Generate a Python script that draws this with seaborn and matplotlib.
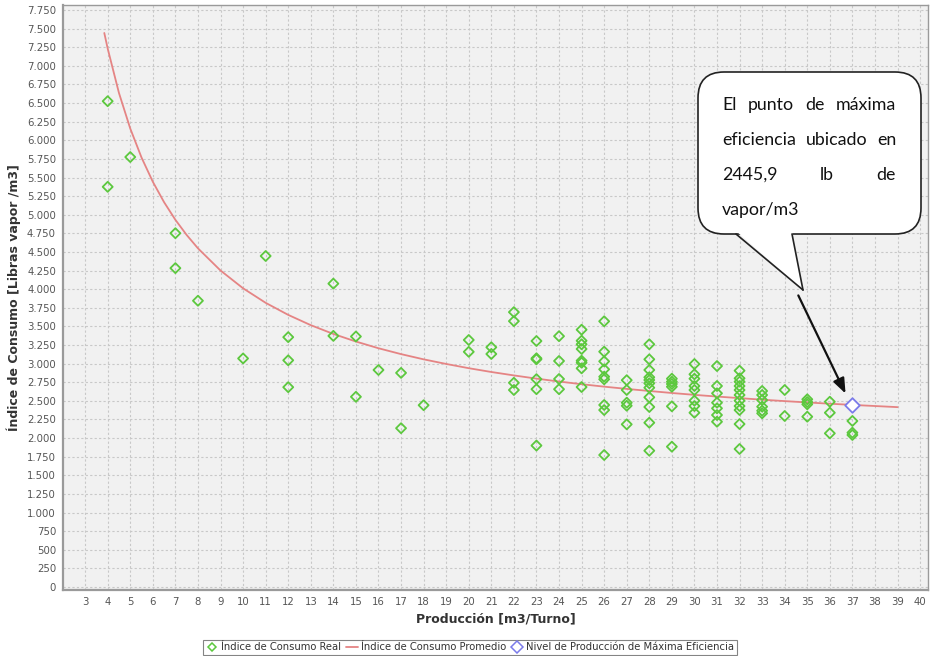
import numpy as np
import pandas as pd
import matplotlib
matplotlib.use("Agg")
import matplotlib.pyplot as plt
import seaborn as sns
from matplotlib.patches import FancyBboxPatch, Polygon
from matplotlib.lines import Line2D
from matplotlib.ticker import FuncFormatter, MultipleLocator

# ---------------- data ----------------
real_x = [4, 4, 5, 7, 7, 8, 10, 11, 12, 12, 12, 14, 14, 15, 15, 16, 17, 17, 18,
          20, 20, 21, 21, 22, 22, 22, 22,
          23, 23, 23, 23, 23, 23,
          24, 24, 24, 24,
          25, 25, 25, 25, 25, 25, 25, 25,
          26, 26, 26, 26, 26, 26, 26, 26, 26,
          27, 27, 27, 27, 27,
          28, 28, 28, 28, 28, 28, 28, 28, 28, 28, 28,
          29, 29, 29, 29, 29, 29,
          30, 30, 30, 30, 30, 30, 30, 30,
          31, 31, 31, 31, 31, 31, 31,
          32, 32, 32, 32, 32, 32, 32, 32, 32, 32, 32,
          33, 33, 33, 33, 33, 33,
          34, 34,
          35, 35, 35, 35,
          36, 36, 36,
          37, 37, 37]
real_y = [6525, 5375, 5775, 4752, 4283, 3845, 3070, 4446, 3356, 3045, 2684, 4075, 3373, 3365, 2555, 2915, 2876, 2133, 2442,
          3318, 3159, 3220, 3130, 3692, 3571, 2743, 2646,
          3304, 3072, 3058, 2792, 2657, 1900,
          3369, 3036, 2794, 2657,
          3456, 3308, 3260, 3197, 3040, 3013, 2937, 2686,
          3569, 3161, 3031, 2924, 2825, 2790, 2445, 2377, 1773,
          2778, 2646, 2476, 2435, 2185,
          3260, 3058, 2915, 2817, 2780, 2736, 2677, 2548, 2418, 2207, 1831,
          2798, 2758, 2727, 2690, 2427, 1885,
          2995, 2857, 2798, 2700, 2646, 2503, 2431, 2341,
          2968, 2700, 2602, 2476, 2400, 2310, 2220,
          2906, 2803, 2758, 2700, 2646, 2579, 2503, 2431, 2377, 2189, 1854,
          2633, 2579, 2512, 2422, 2368, 2333,
          2646, 2297,
          2521, 2485, 2454, 2288,
          2489, 2341, 2064,
          2230, 2073, 2042]

curve_x = [3.85, 4, 4.5, 5, 5.5, 6, 6.5, 7, 7.5, 8, 9, 10, 11, 12, 13, 14, 15, 16, 17, 18, 19,
           20, 21, 22, 23, 24, 25, 26, 27, 28, 29, 30, 31, 32, 33, 34, 35, 36, 37, 38, 39]
curve_y = [7441, 7232, 6635, 6158, 5768, 5443, 5168, 4932, 4728, 4549, 4251, 4012, 3817, 3655, 3517,
           3399, 3297, 3207, 3128, 3058, 2996, 2939, 2888, 2842, 2799, 2760, 2724, 2691, 2661, 2633,
           2606, 2581, 2558, 2537, 2516, 2497, 2479, 2462, 2446, 2431, 2416]

best_x = [37]
best_y = [2445.9]

x_ticks = list(range(3, 41))
y_ticks = list(range(0, 7751, 250))

legend_labels = ["Índice de Consumo Real", "Índice de Consumo Promedio",
                 "Nivel de Producción de Máxima Eficiencia"]
callout_lines = [["El", "punto", "de", "máxima"],
                 ["eficiencia", "ubicado", "en"],
                 ["2445,9", "lb", "de"],
                 ["vapor/m3"]]

# ---------------- figure ----------------
sns.set_style("whitegrid")
plt.rcParams['font.family'] = ['DejaVu Sans']

W, H = 932, 656
fig = plt.figure(figsize=(W / 100, H / 100), dpi=100)
fig.patch.set_facecolor("white")
ax = fig.add_axes([63 / W, 1 - 590 / H, 865 / W, 585 / H])
ax.set_facecolor("#f1f1f1")

green = "#5cc83e"
red = "#e58484"
blue = "#7b7bea"

df_real = pd.DataFrame({"x": real_x, "y": real_y})
df_curve = pd.DataFrame({"x": curve_x, "y": curve_y})
df_best = pd.DataFrame({"x": best_x, "y": best_y})

sns.lineplot(data=df_curve, x="x", y="y", ax=ax, color=red, lw=1.3, sort=True,
             estimator=None, zorder=2)
sns.scatterplot(data=df_real, x="x", y="y", ax=ax, marker="D", s=26,
                facecolor="none", edgecolor=green, linewidth=1.3, zorder=3)
sns.scatterplot(data=df_best, x="x", y="y", ax=ax, marker="D", s=55,
                facecolor="white", edgecolor=blue, linewidth=1.3, zorder=4)

ax.set_xlim(2.02, 40.35)
ax.set_ylim(-40, 7817)
ax.set_xticks(x_ticks)
ax.set_yticks(y_ticks)
ax.yaxis.set_major_formatter(FuncFormatter(lambda v, p: f"{int(v):,}".replace(",", ".")))
ax.xaxis.set_minor_locator(MultipleLocator(1))
ax.grid(True, which="both", color="#c8c8c8", linestyle=(0, (2, 2)), linewidth=0.8)
ax.tick_params(axis="both", which="major", labelsize=7.3, labelcolor="#555555",
               color="#999999", length=3, width=0.8, pad=2)
ax.tick_params(axis="x", which="minor", length=0)
for s in ax.spines.values():
    s.set_color("#9a9a9a")
    s.set_linewidth(1.0)
ax.spines["bottom"].set_linewidth(1.6)
ax.spines["left"].set_linewidth(1.6)

ax.set_xlabel("Producción [m3/Turno]", fontsize=9, fontweight="bold", color="#333333", labelpad=4)
ax.set_ylabel("Índice de Consumo [Libras vapor /m3]", fontsize=9, fontweight="bold",
              color="#333333", labelpad=4)

# legend
handles = [Line2D([], [], marker="D", ls="none", mfc="none", mec=green, ms=4, mew=1.1),
           Line2D([], [], color=red, lw=1.3),
           Line2D([], [], marker="D", ls="none", mfc="none", mec=blue, ms=6, mew=1.1)]
leg = fig.legend(handles, legend_labels, loc="center", ncol=3,
                 bbox_to_anchor=(470 / W, 1 - 647 / H), fontsize=7.2, frameon=True,
                 fancybox=False, edgecolor="#666666", handlelength=1.2, handletextpad=0.3,
                 columnspacing=0.5, borderpad=0.25, labelcolor="#333333")
leg.get_frame().set_linewidth(0.8)

# arrow to the best point
ax.annotate("", xy=(36.75, 2565), xytext=(34.55, 3950),
            arrowprops=dict(arrowstyle="-|>,head_length=0.9,head_width=0.35",
                            color="#111111", lw=1.6), zorder=6)

# callout bubble (pixel-based inches coords)
def P(px, py):
    return (px / 100, (H - py) / 100)

tr = fig.dpi_scale_trans
bx0, by0, bx1, by1 = 698, 72, 921, 234
box = FancyBboxPatch(P(bx0, by1), (bx1 - bx0) / 100, (by1 - by0) / 100,
                     boxstyle="round,pad=0,rounding_size=0.26", transform=tr,
                     facecolor="white", edgecolor="#222222", lw=1.2, zorder=10)
fig.add_artist(box)
tail = Polygon([P(736, 231), P(792, 231), P(803, 290)], closed=True, transform=tr,
               facecolor="white", edgecolor="none", zorder=11)
fig.add_artist(tail)
for sx in (736, 792):
    fig.add_artist(Line2D([P(sx, by1)[0], P(803, 290)[0]], [P(sx, by1)[1], P(803, 290)[1]],
                          transform=tr, color="#222222", lw=1.2, zorder=12))

tx0, tx1 = 722, 896
line_y = [105, 140, 175, 210]
fig.canvas.draw()
renderer = fig.canvas.get_renderer()
for li, words in enumerate(callout_lines):
    arts = []
    for w in words:
        t = fig.text(0, 0, w, transform=tr, fontsize=12.8, family="Lato",
                     color="#111111", va="center", ha="left", zorder=13)
        arts.append(t)
    widths = [a.get_window_extent(renderer).width for a in arts]
    if li < len(callout_lines) - 1 and len(words) > 1:
        gap = (tx1 - tx0 - sum(widths)) / (len(words) - 1)
    else:
        gap = 4
    x = tx0
    for a, wd in zip(arts, widths):
        a.set_position(P(x, line_y[li]))
        x += wd + gap

fig.savefig("out.png", dpi=100, facecolor="white")
